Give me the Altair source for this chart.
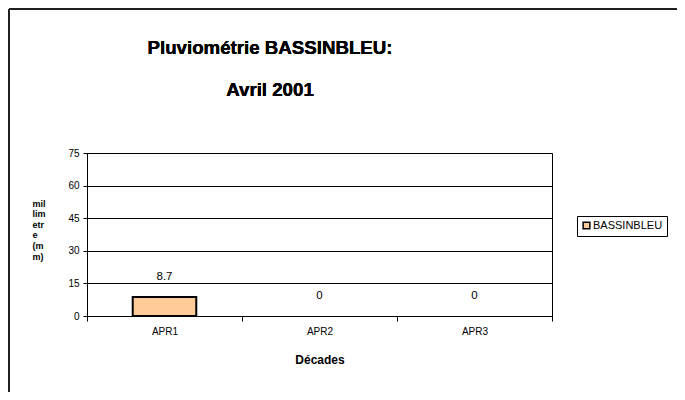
import altair as alt
import pandas as pd

categories = ["APR1", "APR2", "APR3"]
values = [8.7, 0, 0]
series = ["BASSINBLEU", "BASSINBLEU", "BASSINBLEU"]
y_ticks = [0, 15, 30, 45, 60, 75]
title_lines = ["Pluviométrie BASSINBLEU:", "Avril 2001"]

df = pd.DataFrame({"decade": categories, "value": values, "series": series})

FONT = "Liberation Sans"

x_axis = alt.Axis(
    title="Décades",
    labelAngle=0,
    tickBand="extent",
    tickSize=5,
    tickColor="black",
    domainColor="black",
    labelPadding=5,
    labelFontSize=10,
    labelFont=FONT,
    labelColor="black",
    titleFont=FONT,
    titleFontSize=12,
    titleFontWeight="bold",
    titleColor="black",
    titleBaseline="top",
    titleY=38,
    grid=False,
)
y_axis = alt.Axis(
    values=y_ticks,
    labelOverlap=False,
    title=["mil", "lim", "etr", "e", "(m", "m)"],
    titleAngle=0,
    titleAlign="left",
    titleBaseline="top",
    titleX=-55,
    titleY=46,
    titleFont=FONT,
    titleFontSize=9,
    titleFontWeight="bold",
    titleLineHeight=10.6,
    titleColor="black",
    tickSize=4,
    tickColor="black",
    domainColor="black",
    labelPadding=4,
    labelFontSize=10,
    labelFont=FONT,
    labelColor="black",
    gridColor="black",
    gridWidth=1,
)
x_enc = alt.X(
    "decade:N",
    sort=categories,
    scale=alt.Scale(paddingInner=0, paddingOuter=0),
    axis=x_axis,
)
y_enc = alt.Y(
    "value:Q",
    scale=alt.Scale(domain=[0, 75], nice=False),
    axis=y_axis,
)

base = alt.Chart(df)

bars = base.mark_bar(width=alt.RelativeBandSize(0.41), stroke="black").encode(
    x=x_enc,
    y=y_enc,
    color=alt.Color(
        "series:N",
        scale=alt.Scale(range=["#FFCC99"]),
        legend=alt.Legend(
            title=None,
            orient="none",
            legendX=490,
            legendY=63,
            symbolType="square",
            symbolSize=45,
            symbolStrokeColor="black",
            symbolStrokeWidth=1.5,
            labelFont=FONT,
            labelFontSize=11,
            labelColor="black",
            labelOffset=1,
            strokeColor="black",
            padding=4,
        ),
    ),
    strokeWidth=alt.condition(alt.datum.value > 0, alt.value(2), alt.value(0)),
)

labels = base.mark_text(
    baseline="bottom", dy=-15, fontSize=11.5, font=FONT, color="black"
).encode(
    x=x_enc,
    y=y_enc,
    text=alt.Text("value:Q"),
)

frame_left = base.mark_rule(color="black", strokeWidth=1).encode(
    x=alt.value(-78), y=alt.value(-144), y2=alt.value(400)
)
frame_top = base.mark_rule(color="black", strokeWidth=1).encode(
    x=alt.value(-78), x2=alt.value(700), y=alt.value(-144)
)

title1 = base.mark_text(
    font=FONT, fontSize=18.7, fontWeight="bold", color="black", baseline="middle"
).encode(x=alt.value(183), y=alt.value(-105), text=alt.value(title_lines[0]))
title2 = base.mark_text(
    font=FONT, fontSize=18.7, fontWeight="bold", color="black", baseline="middle"
).encode(x=alt.value(183), y=alt.value(-63), text=alt.value(title_lines[1]))

chart = (
    alt.layer(frame_left, frame_top, bars, labels, title1, title2)
    .properties(
        width=465,
        height=163,
        padding={"left": 79, "top": 145, "right": 125, "bottom": 76},
        autosize=alt.AutoSizeParams(type="none"),
    )
    .configure(background="white", view=alt.ViewConfig(stroke="black", strokeWidth=1))
)

chart.save("out.html", embed_options={"renderer": "svg", "actions": False})
